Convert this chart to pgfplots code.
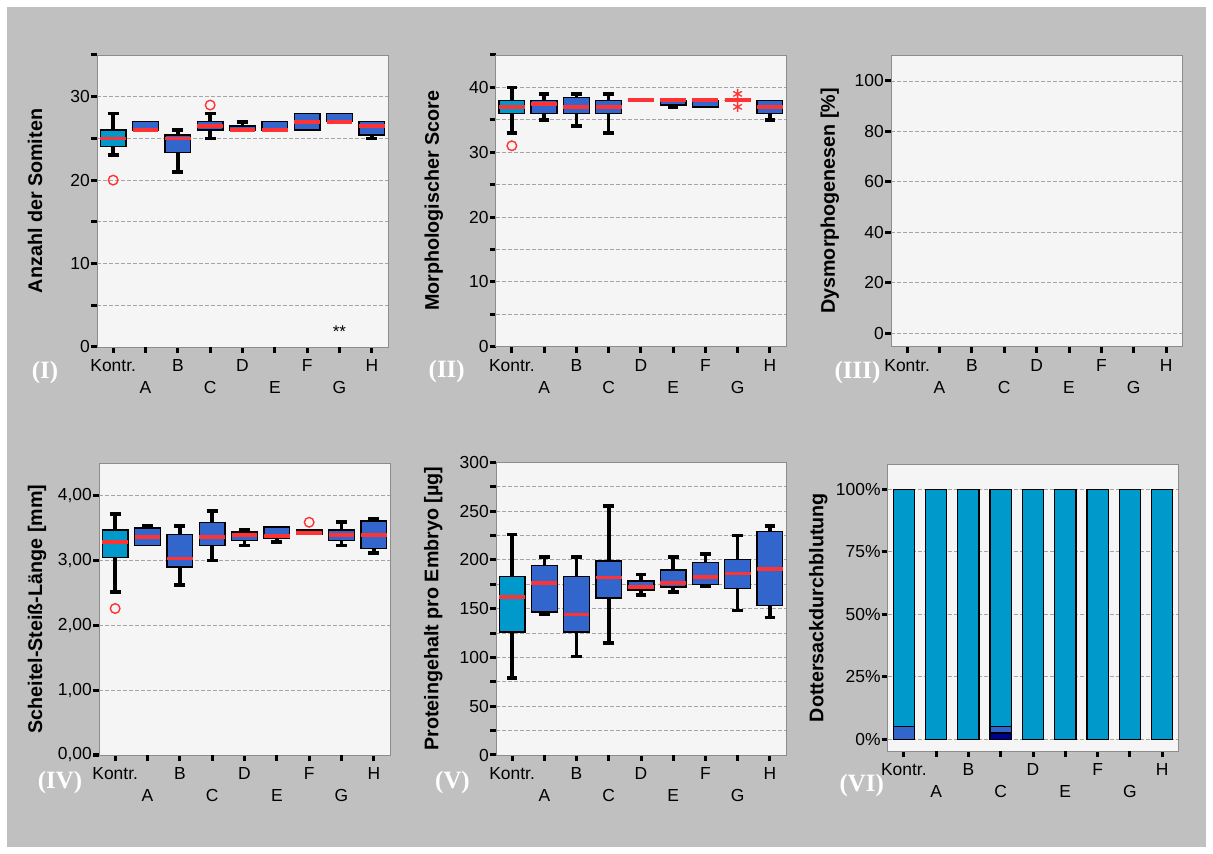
\documentclass[border=0pt]{standalone}
\usepackage{pgfplots}
\pgfplotsset{compat=1.18}
\usepgfplotslibrary{statistics}
\usepackage{fontspec}
\setmainfont{Liberation Sans}
\newfontfamily\numeralfont{Liberation Serif}

\definecolor{panelbg}{HTML}{C0C0C0}
\definecolor{plotbg}{HTML}{F5F5F5}
\definecolor{framec}{HTML}{8C8C8C}
\definecolor{gridc}{HTML}{A5A5A5}
\definecolor{boxcyan}{HTML}{0099CC}
\definecolor{boxblue}{HTML}{3366CC}
\definecolor{medred}{HTML}{FF3333}
\definecolor{navyseg}{HTML}{000090}

\pgfplotsset{
  panel/.style={
    scale only axis, width=291bp, height=292bp, anchor=south west,
    xmin=-0.5, xmax=8.5,
    axis background/.style={fill=plotbg},
    axis line style={draw=framec, line width=0.9bp},
    xtick={0,2,4,6,8}, xticklabels={Kontr.,B,D,F,H},
    extra x ticks={1,3,5,7}, extra x tick labels={A,C,E,G},
    xticklabel style={yshift=-3bp},
    extra x tick style={grid=none, xticklabel style={yshift=-22bp}},
    xtick pos=bottom, ytick pos=left,
    tick align=outside, major tick length=6bp,
    tick style={black, line width=3bp},
    ymajorgrids,
    major grid style={gridc, dash pattern=on 4bp off 2bp, line width=0.9bp},
    tick label style={font=\fontsize{17.5}{20}\selectfont},
    yticklabel style={inner xsep=1bp},
    ylabel style={at={(axis description cs:-0.213,0.5)}, anchor=center,
      font=\bfseries\fontsize{19.8}{22}\selectfont},
    boxplot/draw direction=y,
    boxplot/box extend=0.8, boxplot/whisker extend=0.33,
  },
  boxstyle/.style={
    black,
    boxplot/every box/.style={fill=boxblue, draw=black, line width=1.4bp},
    boxplot/draw/median/.code={%
      \draw[medred, line width=3.8bp]
        (boxplot box cs:\pgfplotsboxplotvalue{median},0) --
        (boxplot box cs:\pgfplotsboxplotvalue{median},1);},
    boxplot/draw/lower whisker/.code={%
      \draw[black, line width=3.6bp]
        (boxplot cs:\pgfplotsboxplotvalue{lower quartile}) --
        (boxplot cs:\pgfplotsboxplotvalue{lower whisker})
        (boxplot whisker cs:\pgfplotsboxplotvalue{lower whisker},0) --
        (boxplot whisker cs:\pgfplotsboxplotvalue{lower whisker},1);},
    boxplot/draw/upper whisker/.code={%
      \draw[black, line width=3.6bp]
        (boxplot cs:\pgfplotsboxplotvalue{upper quartile}) --
        (boxplot cs:\pgfplotsboxplotvalue{upper whisker})
        (boxplot whisker cs:\pgfplotsboxplotvalue{upper whisker},0) --
        (boxplot whisker cs:\pgfplotsboxplotvalue{upper whisker},1);},
  },
  noup/.style={boxplot/draw/upper whisker/.code={}},
  nolow/.style={boxplot/draw/lower whisker/.code={}},
  ctrl/.style={boxplot/every box/.append style={fill=boxcyan}},
  outl/.style={only marks, mark=o, mark size=4.8bp, draw=medred, line width=1.4bp},
  extr/.style={only marks, mark=asterisk, mark size=5bp, draw=medred, line width=1.3bp},
}

% five-number summaries: lower whisker, lower quartile, median, upper quartile, upper whisker
\newcommand\bp[7][]{%
  \addplot[boxstyle, boxplot prepared={draw position=#2, lower whisker=#3,
    lower quartile=#4, median=#5, upper quartile=#6, upper whisker=#7}, #1]
    coordinates {};}

\begin{document}
\begin{tikzpicture}
\path[use as bounding box] (0,0) rectangle (1213bp,854bp);
\fill[white] (0,0) rectangle (1213bp,854bp);
\fill[panelbg] (7bp,7bp) rectangle (1206bp,847bp);

% (I) somites
\begin{axis}[panel, at={(97bp,507bp)},
  ymin=0, ymax=35, ytick={0,5,...,35}, yticklabels={0,,10,,20,,30,},
  ylabel={Anzahl der Somiten}]
\bp[ctrl]{0}{23}{24}{25}{26}{28}
\bp[noup,nolow]{1}{26}{26}{26}{27}{27}
\bp{2}{21}{23.3}{25}{25.4}{26}
\bp{3}{25}{26}{26.5}{27}{28}
\bp[nolow]{4}{26}{26}{26}{26.5}{27}
\bp[noup,nolow]{5}{26}{26}{26}{27}{27}
\bp[noup,nolow]{6}{26}{26}{27}{28}{28}
\bp[noup,nolow]{7}{27}{27}{27}{28}{28}
\bp[noup]{8}{25}{25.4}{26.5}{27}{27}
\addplot[outl] coordinates {(0,20) (3,29)};
\node[font=\fontsize{17}{17}\selectfont] at (axis cs:7,1.8) {**};
\end{axis}

% (II) morphological score
\begin{axis}[panel, at={(495.7bp,507.3bp)}, width=290.3bp, height=291.7bp,
  ymin=0, ymax=45, ytick={0,5,...,45}, yticklabels={0,,10,,20,,30,,40,},
  ylabel={Morphologischer Score}]
\bp[ctrl]{0}{33}{36}{37}{38}{40}
\bp{1}{35}{36}{37.4}{38}{39}
\bp{2}{34}{36}{37}{38.4}{39}
\bp{3}{33}{36}{37}{38}{39}
\bp[noup,nolow]{4}{38}{38}{38}{38}{38}
\bp[noup]{5}{37}{37.3}{38}{38}{38}
\bp[noup,nolow]{6}{37}{37}{38}{38}{38}
\bp[noup,nolow]{7}{38}{38}{38}{38}{38}
\bp[noup]{8}{35}{36}{37}{38}{38}
\addplot[outl] coordinates {(0,31)};
\addplot[extr] coordinates {(7,39) (7,37)};
\end{axis}

% (III) dysmorphogenesis
\begin{axis}[panel, at={(891bp,507.3bp)}, width=291.3bp, height=291.7bp,
  ymin=-5.3, ymax=110.3, ytick={0,20,...,100},
  yticklabels={0,20,40,60,80,100},
  ylabel={Dysmorphogenesen [\%]}, ylabel style={at={(axis description cs:-0.21,0.5)}}]
\end{axis}

% (IV) crown-rump length
\begin{axis}[panel, at={(99bp,99bp)}, height=291.7bp,
  ymin=0, ymax=4.5, ytick={0,1,2,3,4},
  yticklabels={{0,00},{1,00},{2,00},{3,00},{4,00}},
  ylabel={Scheitel-Steiß-Länge [mm]}]
\bp[ctrl]{0}{2.51}{3.05}{3.29}{3.47}{3.72}
\bp[nolow]{1}{3.23}{3.23}{3.36}{3.50}{3.53}
\bp{2}{2.62}{2.90}{3.03}{3.40}{3.53}
\bp{3}{3.00}{3.23}{3.36}{3.59}{3.76}
\bp{4}{3.23}{3.31}{3.40}{3.44}{3.48}
\bp[noup]{5}{3.29}{3.35}{3.38}{3.52}{3.52}
\bp[noup,nolow]{6}{3.40}{3.40}{3.43}{3.47}{3.47}
\bp{7}{3.23}{3.31}{3.40}{3.47}{3.59}
\bp{8}{3.12}{3.19}{3.40}{3.61}{3.64}
\addplot[outl] coordinates {(0,2.26) (6,3.59)};
\end{axis}

% (V) protein content
\begin{axis}[panel, at={(496bp,99bp)}, width=290bp, height=292.7bp,
  ymin=0, ymax=300, ytick={0,25,...,300},
  yticklabels={0,,50,,100,,150,,200,,250,,300},
  ylabel={Proteingehalt pro Embryo [µg]}, ylabel style={at={(axis description cs:-0.216,0.5)}}]
\bp[ctrl]{0}{79}{126}{162}{183}{226}
\bp{1}{144}{146.6}{176.6}{194}{203}
\bp{2}{101}{126}{144}{183}{203}
\bp{3}{115}{161}{182}{199}{255}
\bp{4}{164}{169}{172.5}{178.3}{185}
\bp{5}{167}{172}{176.6}{189.6}{203}
\bp{6}{173}{174.6}{182.4}{197}{206}
\bp{7}{148}{170.5}{186}{200.5}{225}
\bp{8}{141}{153}{190.6}{229}{235}
\end{axis}

% (VI) yolk sac perfusion
\begin{axis}[panel, at={(887.7bp,103bp)}, width=290.6bp, height=286.7bp,
  ymin=-4.7, ymax=110, ytick={0,25,...,100},
  yticklabels={0\%,25\%,50\%,75\%,100\%},
  ylabel={Dottersackdurchblutung}, ylabel style={at={(axis description cs:-0.239,0.5)}},
  ybar stacked, bar width=0.66]
\addplot[fill=navyseg, draw=black, line width=1.2bp]
  coordinates {(0,0) (1,0) (2,0) (3,2.5) (4,0) (5,0) (6,0) (7,0) (8,0)};
\addplot[fill=boxblue, draw=black, line width=1.2bp]
  coordinates {(0,5) (1,0) (2,0) (3,2.5) (4,0) (5,0) (6,0) (7,0) (8,0)};
\addplot[fill=boxcyan, draw=black, line width=1.2bp]
  coordinates {(0,95) (1,100) (2,100) (3,95) (4,100) (5,100) (6,100) (7,100) (8,100)};
\end{axis}

% panel numerals
\begin{scope}[every node/.style={text=white, font=\numeralfont\bfseries\fontsize{25}{25}\selectfont}]
\node at (45bp,481.5bp) {(I)};
\node at (446.7bp,482.3bp) {(II)};
\node at (857.5bp,481bp) {(III)};
\node at (60bp,71bp) {(IV)};
\node at (452.5bp,71bp) {(V)};
\node at (861.7bp,68.2bp) {(VI)};
\end{scope}
\end{tikzpicture}
\end{document}
